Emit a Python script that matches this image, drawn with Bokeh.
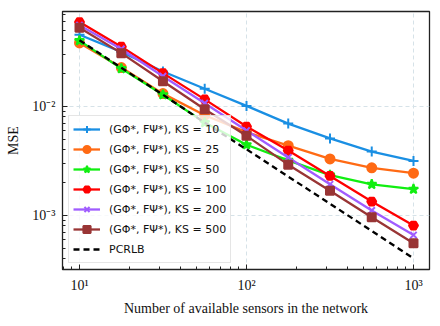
from bokeh.plotting import figure
from bokeh.models import FixedTicker, Legend, LegendItem
from bokeh.embed import file_html
from bokeh.resources import INLINE

# ---- data ----
sensors = [10, 17.8, 31.6, 56.2, 100, 177.8, 316.2, 562.3, 1000]
mse_k10 = [0.0454, 0.0316, 0.0209, 0.0145, 0.0101, 0.00695, 0.00508, 0.00385, 0.00316]
mse_k25 = [0.0382, 0.0227, 0.0131, 0.0083, 0.0058, 0.00436, 0.0033, 0.00273, 0.00244]
mse_k50 = [0.0401, 0.0222, 0.0128, 0.0071, 0.00445, 0.0032, 0.00234, 0.00193, 0.00174]
mse_k100 = [0.0593, 0.0353, 0.0202, 0.0116, 0.00653, 0.00393, 0.0023, 0.00134, 0.000806]
mse_k200 = [0.0556, 0.0336, 0.0189, 0.0107, 0.0060, 0.0034, 0.00193, 0.00111, 0.00066]
mse_k500 = [0.0526, 0.0308, 0.0170, 0.0094, 0.00537, 0.00292, 0.00168, 0.00096, 0.000556]
pcrlb = [0.0405, 0.0226, 0.0128, 0.0071, 0.00404, 0.00227, 0.00128, 0.00072, 0.000404]

labels = ["(GΦ*, FΨ*), KS = 10", "(GΦ*, FΨ*), KS = 25", "(GΦ*, FΨ*), KS = 50",
          "(GΦ*, FΨ*), KS = 100", "(GΦ*, FΨ*), KS = 200", "(GΦ*, FΨ*), KS = 500"]
pcrlb_label = "PCRLB"

x_major = [10, 100, 1000]
x_major_labels = ["10¹", "10²", "10³"]
x_minor = [8, 9, 20, 30, 40, 50, 60, 70, 80, 90, 200, 300, 400, 500, 600, 700, 800, 900]
y_major = [0.001, 0.01]
y_major_labels = ["10⁻³", "10⁻²"]
y_minor = [0.0004, 0.0005, 0.0006, 0.0007, 0.0008, 0.0009,
           0.002, 0.003, 0.004, 0.005, 0.006, 0.007, 0.008, 0.009,
           0.02, 0.03, 0.04, 0.05, 0.06, 0.07]

series = [mse_k10, mse_k25, mse_k50, mse_k100, mse_k200, mse_k500]
colors = ["#1a8fe3", "#ff6a14", "#11ee11", "#ff0000", "#a05cff", "#993535"]
markers = ["cross", "circle", "star", "hex", "x", "square"]
msizes = [10, 9, 10, 9, 9, 8]

p = figure(width=432, height=318, x_axis_type="log", y_axis_type="log",
           x_range=(7.91, 1247), y_range=(3.19e-4, 0.0742),
           output_backend="svg", toolbar_location=None,
           min_border_left=62, min_border_right=3, min_border_top=11, min_border_bottom=46)

p.background_fill_color = "white"
p.border_fill_color = "white"
p.outline_line_color = "#222222"
p.outline_line_width = 1.3

items = []
for ys, c, m, s, lab in zip(series, colors, markers, msizes, labels):
    r1 = p.line(sensors, ys, line_color=c, line_width=2.3)
    r2 = p.scatter(sensors, ys, marker=m, size=s, line_color=c, fill_color=c, line_width=2)
    items.append(LegendItem(label=lab, renderers=[r1, r2]))
rp = p.line(sensors, pcrlb, line_color="black", line_width=2.3, line_dash="6 4")
items.append(LegendItem(label=pcrlb_label, renderers=[rp]))

for ax, maj, lab_list, mnr in [(p.xaxis[0], x_major, x_major_labels, x_minor),
                               (p.yaxis[0], y_major, y_major_labels, y_minor)]:
    ax.ticker = FixedTicker(ticks=maj, minor_ticks=mnr)
    ax.major_label_overrides = {v: t for v, t in zip(maj, lab_list)}
    ax.major_tick_in = 5
    ax.major_tick_out = 0
    ax.minor_tick_in = 3
    ax.minor_tick_out = 0
    ax.axis_line_color = "#222222"
    ax.major_tick_line_color = "#222222"
    ax.minor_tick_line_color = "#222222"
    ax.major_label_text_font = "Liberation Serif"
    ax.major_label_text_font_size = "14px"
    ax.major_label_text_color = "#111111"
    ax.axis_label_text_font = "Liberation Serif"
    ax.axis_label_text_font_size = "14px"
    ax.axis_label_text_font_style = "normal"
    ax.axis_label_text_color = "#111111"

p.xaxis.axis_label = "Number of available sensors in the network"
p.yaxis.axis_label = "MSE"
p.xaxis.major_label_standoff = 8
p.xaxis.axis_label_standoff = 5
p.yaxis.major_label_standoff = 7
p.yaxis.axis_label_standoff = 8

p.xgrid.ticker = FixedTicker(ticks=x_major)
p.ygrid.ticker = FixedTicker(ticks=y_major)
for g in (p.xgrid, p.ygrid):
    g.grid_line_color = "#d6e2e8"
    g.grid_line_dash = "4 3"
    g.grid_line_width = 1

legend = Legend(items=items, location="bottom_left")
legend.margin = 6
legend.padding = 4
legend.spacing = 2
legend.glyph_width = 27
legend.glyph_height = 18
legend.label_height = 18
legend.label_standoff = 9
legend.label_text_font = "DejaVu Sans"
legend.label_text_font_size = "11px"
legend.label_text_color = "#111111"
legend.background_fill_color = "white"
legend.background_fill_alpha = 0.8
legend.border_line_color = "#cccccc"
legend.border_line_width = 1
p.add_layout(legend)

open("out.html", "w").write(file_html(p, INLINE))
